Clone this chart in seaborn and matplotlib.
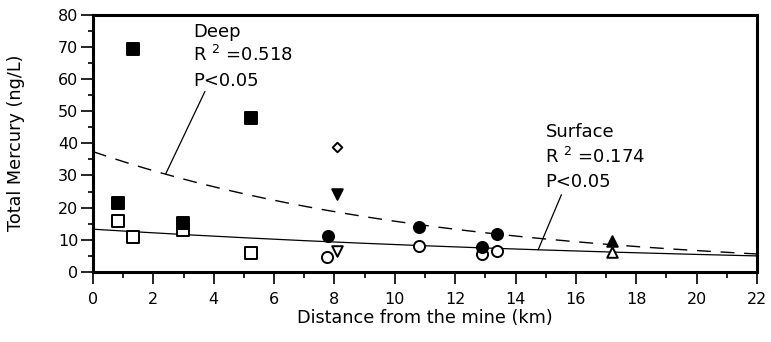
import numpy as np
import pandas as pd
import matplotlib
matplotlib.use("Agg")
import matplotlib.pyplot as plt
from matplotlib.ticker import MultipleLocator
import seaborn as sns

# ---- station data: distance from the mine (km) and total mercury (ng/L) ----
sq_deep_x = [0.84, 1.33, 2.97, 5.23]
sq_deep_y = [21.4, 69.3, 15.1, 47.8]
sq_surf_x = [0.84, 1.33, 2.97, 5.22]
sq_surf_y = [15.7, 11.0, 12.9, 5.8]

diamond_x = [8.10]
diamond_y = [38.7]

tri_down_deep_x = [8.09]
tri_down_deep_y = [24.3]
tri_down_surf_x = [8.10]
tri_down_surf_y = [6.6]

circ_deep_x = [7.79, 10.81, 12.89, 13.39]
circ_deep_y = [11.2, 13.9, 7.9, 11.7]
circ_surf_x = [7.76, 10.81, 12.89, 13.39]
circ_surf_y = [4.6, 8.1, 5.6, 6.5]

tri_up_deep_x = [17.2]
tri_up_deep_y = [9.7]
tri_up_surf_x = [17.2]
tri_up_surf_y = [6.2]

# exponential fits  y = a * exp(-b * x)
deep_fit_a, deep_fit_b = 37.4, 0.0863
surf_fit_a, surf_fit_b = 13.3, 0.0445

deep_label = ["Deep", "R $^2$ =0.518", "P<0.05"]
surf_label = ["Surface", "R $^2$ =0.174", "P<0.05"]

x_ticks = list(range(0, 23, 2))
y_ticks = list(range(0, 81, 10))

# ---- styling ----
sns.set_theme(style="ticks")
plt.rcParams["font.family"] = ["DejaVu Sans"]
plt.rcParams["mathtext.fontset"] = "dejavusans"
plt.rcParams["text.color"] = "black"

fig = plt.figure(figsize=(7.71, 3.42), dpi=100)
ax = fig.add_axes([0.1206, 0.2047, 0.8612, 0.7529])

# fitted curves
fx = np.linspace(0, 22, 200)
sns.lineplot(x=fx, y=deep_fit_a * np.exp(-deep_fit_b * fx), color="black",
             linewidth=1.0, linestyle=(0, (10, 7)), ax=ax, zorder=2)
sns.lineplot(x=fx, y=surf_fit_a * np.exp(-surf_fit_b * fx), color="black",
             linewidth=0.9, ax=ax, zorder=2)

def pts(x, y, marker, s, filled):
    face = "black" if filled else "white"
    sns.scatterplot(x=x, y=y, marker=marker, s=s, color=face,
                    edgecolor="black", linewidth=1.4, ax=ax, zorder=4)

pts(sq_surf_x, sq_surf_y, "s", 72, False)
pts(sq_deep_x, sq_deep_y, "s", 72, True)
pts(diamond_x, diamond_y, "D", 24, False)
pts(tri_down_surf_x, tri_down_surf_y, "v", 58, False)
pts(tri_down_deep_x, tri_down_deep_y, "v", 58, True)
pts(circ_surf_x, circ_surf_y, "o", 64, False)
pts(circ_deep_x, circ_deep_y, "o", 64, True)
pts(tri_up_surf_x, tri_up_surf_y, "^", 58, False)
pts(tri_up_deep_x, tri_up_deep_y, "^", 58, True)

# annotation text and leader lines
for txt, yy in zip(deep_label, [72.9, 65.5, 57.9]):
    ax.text(3.31, yy, txt, fontsize=13, ha="left", va="baseline",
            color="black")
for txt, yy in zip(surf_label, [42.0, 33.8, 26.3]):
    ax.text(14.99, yy, txt, fontsize=13, ha="left", va="baseline",
            color="black")

sns.lineplot(x=[3.71, 2.41], y=[56.1, 30.5], color="black", linewidth=0.9,
             ax=ax, zorder=3)
sns.lineplot(x=[15.52, 14.75], y=[24.0, 6.9], color="black", linewidth=0.9,
             ax=ax, zorder=3)

# axes
ax.set_xlim(0, 22)
ax.set_ylim(0, 80)
ax.set_xticks(x_ticks)
ax.set_yticks(y_ticks)
ax.xaxis.set_minor_locator(MultipleLocator(1))
ax.yaxis.set_minor_locator(MultipleLocator(5))
ax.tick_params(axis="x", which="major", direction="out", length=8.5, width=1.2,
               pad=6, labelsize=11.5, color="black", labelcolor="black")
ax.tick_params(axis="x", which="minor", direction="out", length=4, width=1.2,
               color="black")
ax.tick_params(axis="y", which="major", direction="out", length=9, width=1.2,
               pad=1.5, labelsize=11.5, color="black", labelcolor="black")
ax.tick_params(axis="y", which="minor", direction="out", length=3.5, width=1.2,
               color="black")
for side in ["left", "right", "top", "bottom"]:
    ax.spines[side].set_visible(True)
    ax.spines[side].set_linewidth(2.2)
    ax.spines[side].set_color("black")

ax.set_xlabel("Distance from the mine (km)", fontsize=12.7, labelpad=1,
              color="black")
ax.set_ylabel("Total Mercury (ng/L)", fontsize=12.7, labelpad=24,
              color="black")
ax.grid(False)
ax.set_facecolor("white")
fig.patch.set_facecolor("white")

fig.savefig("out.png", dpi=100)
